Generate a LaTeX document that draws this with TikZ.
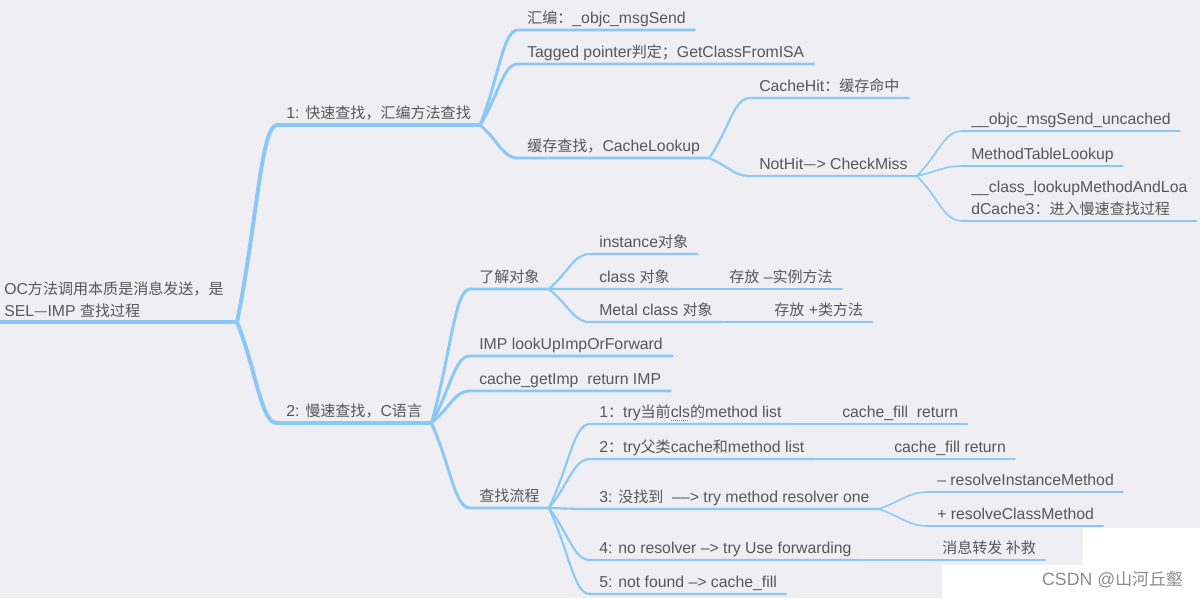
\documentclass[tikz,border=0pt]{standalone}
\usepackage{fontspec}
\setmainfont[Scale=1.05]{Liberation Sans}
\newfontfamily\cjk{Noto Sans CJK SC}
\usetikzlibrary{calc}

\definecolor{bgcol}{RGB}{238,238,243}
\definecolor{linecol}{RGB}{138,200,248}
\definecolor{txtcol}{RGB}{88,88,88}

\newcommand{\zh}[1]{{\cjk #1}}
% red spell-check dots under a word
\newcommand{\squig}[1]{\setbox0=\hbox{#1}\rlap{\color{red!70!white}\raisebox{-2.2pt}{\hbox to\wd0{\leaders\hbox to 1.4pt{\hss\rule{0.7pt}{0.5pt}\hss}\hfill}}}\box0}

\tikzset{
  topic/.style={anchor=south west, inner xsep=0.225cm, inner ysep=0.15cm, text depth=0pt,
    font=\fontsize{10.7pt}{15.5pt}\selectfont, text=txtcol, align=left},
  branch/.style={to path={.. controls ($(\tikztostart)!0.5!(\tikztotarget)$)
    and ($(\tikztostart|-\tikztotarget)!0.6!(\tikztotarget)$) .. (\tikztotarget) \tikztonodes}},
  lvone/.style={draw=linecol, line width=2.8pt, line cap=round},
  lvtwo/.style={draw=linecol, line width=2.1pt, line cap=round},
  lvthree/.style={draw=linecol, line width=1.5pt, line cap=round},
  lvfour/.style={draw=linecol, line width=1.1pt, line cap=round}
}

\begin{document}
\begin{tikzpicture}[x=0.025cm, y=-0.025cm]
% Background
\fill[bgcol] (0,0) rectangle (1200,598);
\useasboundingbox (0,0) rectangle (1200,598);
\fill[white] (1083,528) rectangle (1200,598);
\fill[white] (942,565) rectangle (1200,598);

% Root
\node[topic, inner xsep=0.1cm, inner ysep=0.14cm] (root) at (0,322)
  {OC\zh{方法调用本质是消息发送，是}\\SEL\zh{—}IMP \zh{查找过程}};
\coordinate (hub) at (237,322);
\draw[lvone] (root.south west) -- (hub);

% 1: fast search
\node[topic] (fast) at (277,125) {1: \zh{快速查找，汇编方法查找}};
\draw[lvone] (hub) to[branch] (fast.south west) -- (fast.south east);

\node[topic] (asm) at (518,30) {\zh{汇编：}\_objc\_msgSend};
\node[topic] (tagged) at (518,64) {Tagged pointer\zh{判定；}GetClassFromISA};
\node[topic] (cache) at (518,158) {\zh{缓存查找，}CacheLookup};
\draw[lvtwo] (fast.south east) to[branch] (asm.south west) -- (asm.south east);
\draw[lvtwo] (fast.south east) to[branch] (tagged.south west) -- (tagged.south east);
\draw[lvtwo] (fast.south east) to[branch] (cache.south west) -- (cache.south east);

\node[topic] (hit) at (750,98) {CacheHit\zh{：缓存命中}};
\node[topic] (miss) at (750,176) {NotHit\zh{—}> CheckMiss};
\draw[lvthree] (cache.south east) to[branch] (hit.south west) -- (hit.south east);
\draw[lvthree] (cache.south east) to[branch] (miss.south west) -- (miss.south east);

\node[topic] (uncached) at (962,131) {\_\_objc\_msgSend\_uncached};
\node[topic] (table) at (962,166) {MethodTableLookup};
\node[topic] (loadcache) at (962,221) {\_\_class\_lookupMethodAndLoa\\dCache3\zh{：进入慢速查找过程}};
\draw[lvfour] (miss.south east) to[branch] (uncached.south west) -- (uncached.south east);
\draw[lvfour] (miss.south east) to[branch] (table.south west) -- (table.south east);
\draw[lvfour] (miss.south east) to[branch] (loadcache.south west) -- (loadcache.south east);

% 2: slow search
\node[topic] (slow) at (277,423) {2: \zh{慢速查找，}C\zh{语言}};
\draw[lvone] (hub) to[branch] (slow.south west) -- (slow.south east);

\node[topic] (object) at (470,289) {\zh{了解对象}};
\node[topic] (lookup) at (470,356) {IMP lookUpImpOrForward};
\node[topic] (getimp) at (470,391) {cache\_getImp\ \ return IMP};
\node[topic] (flow) at (470,508) {\zh{查找流程}};
\draw[lvtwo] (slow.south east) to[branch] (object.south west) -- (object.south east);
\draw[lvtwo] (slow.south east) to[branch] (lookup.south west) -- (lookup.south east);
\draw[lvtwo] (slow.south east) to[branch] (getimp.south west) -- (getimp.south east);
\draw[lvtwo] (slow.south east) to[branch] (flow.south west) -- (flow.south east);

% objects
\node[topic] (inst) at (590,254) {instance\zh{对象}};
\node[topic] (cls) at (590,289) {class \zh{对象}};
\node[topic] (meta) at (590,322) {Metal class \zh{对象}};
\node[topic] (clsnote) at (720,289) {\zh{存放} –\zh{实例方法}};
\node[topic] (metanote) at (765,322) {\zh{存放} +\zh{类方法}};
\draw[lvthree] (object.south east) to[branch] (inst.south west) -- (inst.south east);
\draw[lvthree] (object.south east) to[branch] (cls.south west) -- (cls.south east);
\draw[lvthree] (object.south east) to[branch] (meta.south west) -- (meta.south east);
\draw[lvthree] (cls.south east) -- (clsnote.south west) -- (clsnote.south east);
\draw[lvthree] (meta.south east) -- (metanote.south west) -- (metanote.south east);

% lookup flow
\node[topic] (try1) at (590,424) {1\zh{：}try\zh{当前}\squig{cls}\zh{的}method list};
\node[topic] (try2) at (590,459) {2\zh{：}try\zh{父类}cache\zh{和}method list};
\node[topic] (try3) at (590,509) {3: \zh{没找到}\ \ ––> try method resolver one};
\node[topic] (try4) at (590,560) {4: no resolver –> try Use forwarding};
\node[topic] (try5) at (590,594) {5: not found –> cache\_fill};
\draw[lvthree] (flow.south east) to[branch] (try1.south west) -- (try1.south east);
\draw[lvthree] (flow.south east) to[branch] (try2.south west) -- (try2.south east);
\draw[lvthree] (flow.south east) to[branch] (try3.south west) -- (try3.south east);
\draw[lvthree] (flow.south east) to[branch] (try4.south west) -- (try4.south east);
\draw[lvthree] (flow.south east) to[branch] (try5.south west) -- (try5.south east);

\node[topic] (fill1) at (833,424) {cache\_fill\ \ return};
\node[topic] (fill2) at (885,459) {cache\_fill return};
\node[topic] (resinst) at (928,492) {– resolveInstanceMethod};
\node[topic] (rescls) at (928,526) {+ resolveClassMethod};
\node[topic] (forward) at (933,560) {\zh{消息转发 补救}};
\draw[lvfour] (try1.south east) -- (fill1.south west) -- (fill1.south east);
\draw[lvfour] (try2.south east) -- (fill2.south west) -- (fill2.south east);
\draw[lvfour] (try3.south east) to[branch] (resinst.south west) -- (resinst.south east);
\draw[lvfour] (try3.south east) to[branch] (rescls.south west) -- (rescls.south east);
\draw[lvfour] (try4.south east) -- (forward.south west) -- (forward.south east);

% Watermark
\node[anchor=east, font=\fontsize{12pt}{14pt}\selectfont, text=black!45] (mark) at (1188,580)
  {CSDN @\zh{山河丘壑}};
\end{tikzpicture}
\end{document}
